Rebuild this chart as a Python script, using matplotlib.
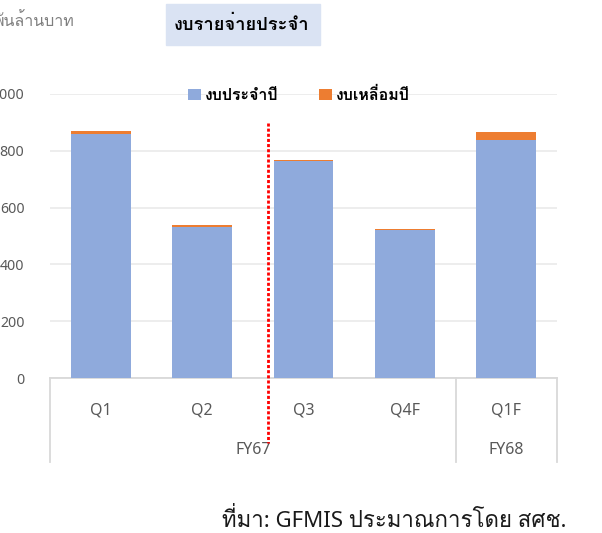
import matplotlib
matplotlib.use("Agg")
import matplotlib.pyplot as plt
from matplotlib.patches import Rectangle
import numpy as np

# Noto Sans for latin, Loma picks up the Thai glyphs (stacks tone marks properly)
plt.rcParams["font.family"] = ["Noto Sans", "Loma", "DejaVu Sans"]
THAI_BOLD = ["Loma", "DejaVu Sans"]

# data (พันล้านบาท)
quarters = ["Q1", "Q2", "Q3", "Q4F", "Q1F"]
fiscal_years = ["FY67", "FY68"]
fy_groups = [(0, 3), (4, 4)]          # first/last quarter index per fiscal year
regular = [859, 531, 765, 522, 839]   # งบประจำปี
carryover = [12, 8, 3, 3, 28]         # งบเหลื่อมปี
yticks = [0, 200, 400, 600, 800, 1000]

BLUE = "#8FAADC"
ORANGE = "#ED7D31"
GREY_TXT = "#595959"
LINE = "#D9D9D9"

W, H = 602, 533
fig = plt.figure(figsize=(W / 100, H / 100), dpi=100)


def fx(px):
    return px / W


def fy(py):
    return 1 - py / H


ax_top, ax_bot = 94, 378
ax = fig.add_axes([fx(50), fy(ax_bot), fx(557) - fx(50), fy(ax_top) - fy(ax_bot)])
x = np.arange(len(quarters))
b1 = ax.bar(x, regular, width=0.59, color=BLUE, label="งบประจำปี", zorder=3)
b2 = ax.bar(x, carryover, bottom=regular, width=0.59, color=ORANGE, label="งบเหลื่อมปี", zorder=3)

ax.set_xlim(-0.5, len(quarters) - 0.5)
ax.set_ylim(0, 1000)
ax.set_yticks(yticks, labels=[f"{v:,}" for v in yticks])
ax.set_xticks(x, labels=quarters)
ax.tick_params(axis="y", length=0, pad=18.4, labelsize=10.2, labelcolor=GREY_TXT)
ax.tick_params(axis="x", length=0, pad=17.5, labelsize=11.5, labelcolor=GREY_TXT)
ax.grid(axis="y", color="#EDEDED", lw=1.4, zorder=0)
for s in ("top", "right", "left"):
    ax.spines[s].set_visible(False)
ax.spines["bottom"].set_color(LINE)
ax.spines["bottom"].set_linewidth(1.3)

# multi-level category box
tr = ax.get_xaxis_transform()
box_bot = (ax_bot - 462) / (ax_bot - ax_top)
for xv in (-0.5, 3.5, len(quarters) - 0.5):
    ax.plot([xv, xv], [0, box_bot], transform=tr, color=LINE, lw=1.3, clip_on=False)
fy_y = (ax_bot - 450) / (ax_bot - ax_top)
for name, (a, b) in zip(fiscal_years, fy_groups):
    ax.text((a + b) / 2, fy_y, name, transform=tr, ha="center", va="center",
            fontsize=11.5, color=GREY_TXT)

# red dotted divider
ax.plot([1.65, 1.65], [(ax_bot - 123) / (ax_bot - ax_top), (ax_bot - 443) / (ax_bot - ax_top)],
        transform=tr, color="#FF0000", lw=2, linestyle=(0, (1.1, 0.75)),
        clip_on=False, zorder=5)

ax.legend(handles=[b1, b2], loc="center", bbox_to_anchor=(fx(299), fy(95)),
          bbox_transform=fig.transFigure, ncol=2, frameon=False,
          handlelength=0.8, handleheight=0.75, handletextpad=0.3, columnspacing=2.5,
          prop={"family": THAI_BOLD, "weight": "bold", "size": 11.5})

# title box
fig.patches.append(Rectangle((fx(166), fy(44.7)), fx(320) - fx(166), fy(4) - fy(44.7),
                             transform=fig.transFigure, color="#DAE3F3", zorder=0))
fig.text(fx(242), fy(25), "งบรายจ่ายประจำ", ha="center", va="center",
         fontsize=13.2, fontweight="bold", family=THAI_BOLD, color="black")

fig.text(fx(-6), fy(22), "พันล้านบาท", ha="left", va="center", fontsize=11.5, color="#7F7F7F")
fig.text(fx(222), fy(520), "ที่มา: GFMIS ประมาณการโดย สศช.", ha="left", va="center",
         fontsize=16, color="#1A1A1A")

fig.savefig("out.png", dpi=100)
